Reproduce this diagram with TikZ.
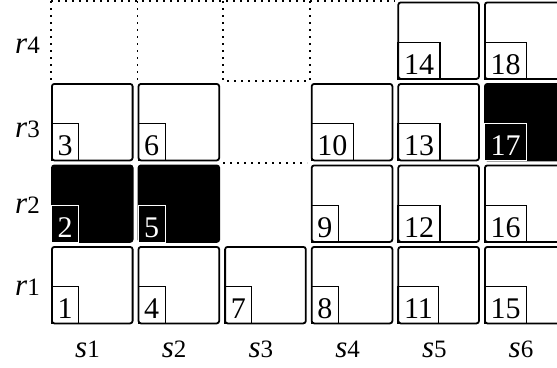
\documentclass[tikz,border=0pt]{standalone}
\usepackage{fontspec}
\setmainfont{Liberation Serif}
\newfontfamily\numfont{Liberation Serif}
\newcommand\numsize{\fontsize{30}{34}\selectfont}
\newcommand\lbl[2]{{\fontsize{31}{34}\selectfont\itshape #1}{\fontsize{25}{30}\selectfont #2}}
\begin{document}
\begin{tikzpicture}[x=1pt,y=-1pt,
  cell/.style={draw, line width=1.8pt, rounded corners=2.5pt, minimum width=80.7pt, minimum height=76.5pt, inner sep=0pt, anchor=north west},
  blk/.style={cell, fill=black},
  num/.style={draw, line width=1.2pt, anchor=south west, inner xsep=6pt, inner ysep=0pt, text height=32pt, text depth=5pt, font={\numfont\numsize}},
  wnum/.style={num, draw=white, text=white},
  lab/.style={inner sep=0pt},
  dotline/.style={line width=1.8pt, dash pattern=on 1.6pt off 5.4pt}
]
\useasboundingbox (0,0) rectangle (557,367);
\clip (0,0) rectangle (557,367);
% dotted outline of empty slots
\draw[dotline] (51,1) -- (395,1);
\draw[dotline] (51,1) -- (51,82);
\draw[dotline] (137.5,1) -- (137.5,82);
\draw[dotline] (223,1) -- (223,81) -- (310,81) -- (310,1);
\draw[dotline] (223,163) -- (307,163);
% boxes
\foreach \c/\r/\n/\s/\t in {1/1/1/cell/num, 2/1/4/cell/num, 3/1/7/cell/num, 4/1/8/cell/num, 5/1/11/cell/num, 6/1/15/cell/num,
  1/2/2/blk/wnum, 2/2/5/blk/wnum, 4/2/9/cell/num, 5/2/12/cell/num, 6/2/16/cell/num,
  1/3/3/cell/num, 2/3/6/cell/num, 4/3/10/cell/num, 5/3/13/cell/num, 6/3/17/blk/wnum,
  5/4/14/cell/num, 6/4/18/cell/num}{
  \node[\s] (b\n) at ({51+86.6*(\c-1)},{246-81.5*(\r-1)}) {};
  \node[\t] (n\n) at (b\n.south west) {\n};
}
% row labels
\node[lab, anchor=base east] (r4) at (40,53) {\lbl{r}{4}};
\node[lab, anchor=base east] (r3) at (40,137) {\lbl{r}{3}};
\node[lab, anchor=base east] (r2) at (40,213) {\lbl{r}{2}};
\node[lab, anchor=base east] (r1) at (40,295) {\lbl{r}{1}};
% column labels
\node[lab, anchor=base] (s1) at (87.5,357) {\lbl{s}{1}};
\node[lab, anchor=base] (s2) at (174.2,357) {\lbl{s}{2}};
\node[lab, anchor=base] (s3) at (260.9,357) {\lbl{s}{3}};
\node[lab, anchor=base] (s4) at (347.6,357) {\lbl{s}{4}};
\node[lab, anchor=base] (s5) at (434.3,357) {\lbl{s}{5}};
\node[lab, anchor=base] (s6) at (521,357) {\lbl{s}{6}};
\end{tikzpicture}
\end{document}
